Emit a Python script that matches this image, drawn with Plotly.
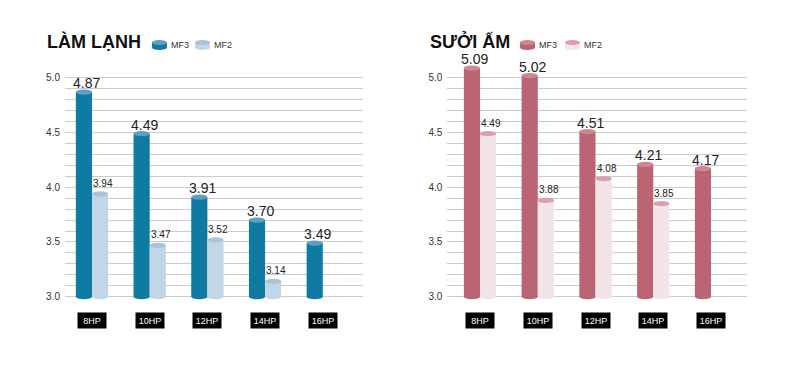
import plotly.graph_objects as go

W, H = 796, 366

categories = ["8HP", "10HP", "12HP", "14HP", "16HP"]
cool_mf3 = [4.87, 4.49, 3.91, 3.70, 3.49]
cool_mf2 = [3.94, 3.47, 3.52, 3.14, None]
heat_mf3 = [5.09, 5.02, 4.51, 4.21, 4.17]
heat_mf2 = [4.49, 3.88, 4.08, 3.85, None]
series_names = ["MF3", "MF2"]
titles = ["LÀM LẠNH", "SƯỞI ẤM"]
ytick_vals = [round(3.0 + 0.1 * k, 1) for k in range(21)]
ytick_text = [f"{v:.1f}" if abs(v * 2 - round(v * 2)) < 1e-9 else "" for v in ytick_vals]

FONT = "Liberation Sans, Arial, sans-serif"

def px(x):
    return x / W

def py(y):
    return 1 - y / H

# palettes: (body, cap)
pal = {
    "cool": {"MF3": ("#0f7ba3", "#5f9fc2"), "MF2": ("#c1d7e7", "#a6c4da")},
    "heat": {"MF3": ("#bb6473", "#cf8794"), "MF2": ("#f3e4ea", "#d9a0ad")},
}

BW = 0.28
CAP = 0.024
ydom = [py(313.1), py(50.55)]
yrange = [2.85, 5.25]

fig = go.Figure()
shapes = []
annotations = []

panels = [
    dict(key="cool", data={"MF3": cool_mf3, "MF2": cool_mf2}, xa="x", ya="y",
         xdom=[px(65), px(363)], xrange=[-0.468, 4.697], title=titles[0],
         title_x=45, leg=[(152, 169), (195, 212)]),
    dict(key="heat", data={"MF3": heat_mf3, "MF2": heat_mf2}, xa="x2", ya="y2",
         xdom=[px(447.3), px(747)], xrange=[-0.567, 4.623], title=titles[1],
         title_x=428, leg=[(520, 537), (565, 582)]),
]

xpos = list(range(len(categories)))

for p in panels:
    for si, name in enumerate(series_names):
        vals = p["data"][name]
        body, cap = pal[p["key"]][name]
        offset = -BW if si == 0 else 0.0
        xs = [x for x, v in zip(xpos, vals) if v is not None]
        vs = [v for v in vals if v is not None]
        fig.add_trace(go.Bar(
            x=xs, y=[v - 3.0 for v in vs], base=3.0, width=BW, offset=offset,
            marker=dict(color=body, line=dict(width=0)),
            name=name, showlegend=False, xaxis=p["xa"], yaxis=p["ya"],
            hovertemplate=name + ": %{customdata}<extra></extra>", customdata=vs,
        ))
        for x, v in zip(xs, vs):
            # bottom rounding
            shapes.append(dict(type="circle", xref=p["xa"], yref=p["ya"],
                               x0=x + offset, x1=x + offset + BW,
                               y0=3.0 - CAP, y1=3.0 + CAP,
                               fillcolor=body, line=dict(width=0), layer="above"))
            # top cap
            shapes.append(dict(type="circle", xref=p["xa"], yref=p["ya"],
                               x0=x + offset, x1=x + offset + BW,
                               y0=v - CAP, y1=v + CAP,
                               fillcolor=cap, line=dict(width=0), layer="above"))
            annotations.append(dict(
                xref=p["xa"], yref=p["ya"], x=x + offset + BW / 2, y=v,
                text=f"{v:.2f}", showarrow=False, yanchor="bottom", xanchor="center",
                xshift=3, yshift=-1 if si == 0 else 3,
                font=dict(family=FONT, size=14 if si == 0 else 10, color="#222222"),
            ))
    # category label boxes
    for x, c in zip(xpos, categories):
        annotations.append(dict(
            xref=p["xa"], yref="paper", x=x, y=py(320), text=c, showarrow=False,
            xanchor="center", yanchor="middle", bgcolor="#000000",
            font=dict(family=FONT, size=9, color="#ffffff"),
            width=24, height=11, borderpad=2,
        ))
    # title
    annotations.append(dict(
        xref="paper", yref="paper", x=px(p["title_x"]), y=py(41), text=f"<b>{p['title']}</b>",
        showarrow=False, xanchor="left", yanchor="middle",
        font=dict(family=FONT, size=18, color="#111111"),
    ))
    # manual legend (cylinder icons)
    for name, (ix, tx) in zip(series_names, p["leg"]):
        body, cap = pal[p["key"]][name]
        shapes.append(dict(type="circle", xref="paper", yref="paper",
                           x0=px(ix), x1=px(ix + 15), y0=py(50), y1=py(45),
                           fillcolor=body, line=dict(width=0)))
        shapes.append(dict(type="rect", xref="paper", yref="paper",
                           x0=px(ix), x1=px(ix + 15), y0=py(47.5), y1=py(42.5),
                           fillcolor=body, line=dict(width=0)))
        shapes.append(dict(type="circle", xref="paper", yref="paper",
                           x0=px(ix), x1=px(ix + 15), y0=py(45), y1=py(40),
                           fillcolor=cap, line=dict(width=0)))
        annotations.append(dict(
            xref="paper", yref="paper", x=px(tx), y=py(45), text=name, showarrow=False,
            xanchor="left", yanchor="middle",
            font=dict(family=FONT, size=9, color="#333333"),
        ))

axis_y = dict(range=yrange, domain=ydom, tickmode="array", tickvals=ytick_vals,
              ticktext=ytick_text, showgrid=True, gridcolor="#cccccc", gridwidth=1,
              zeroline=False, showline=False, ticks="", ticklabelstandoff=4,
              tickfont=dict(family=FONT, size=10, color="#333333"), fixedrange=True)
axis_x = dict(showgrid=False, zeroline=False, showline=False, showticklabels=False,
              ticks="", fixedrange=True)

fig.update_layout(
    width=W, height=H, autosize=False,
    margin=dict(l=0, r=0, t=0, b=0),
    paper_bgcolor="#ffffff", plot_bgcolor="#ffffff",
    barmode="overlay", showlegend=False,
    xaxis=dict(axis_x, domain=panels[0]["xdom"], range=panels[0]["xrange"], anchor="y"),
    yaxis=dict(axis_y, anchor="x"),
    xaxis2=dict(axis_x, domain=panels[1]["xdom"], range=panels[1]["xrange"], anchor="y2"),
    yaxis2=dict(axis_y, anchor="x2"),
    shapes=shapes, annotations=annotations,
    font=dict(family=FONT),
)

fig.write_html("out.html", config={"displayModeBar": False},
               post_script="document.body.style.margin='0';document.body.style.padding='0';")
